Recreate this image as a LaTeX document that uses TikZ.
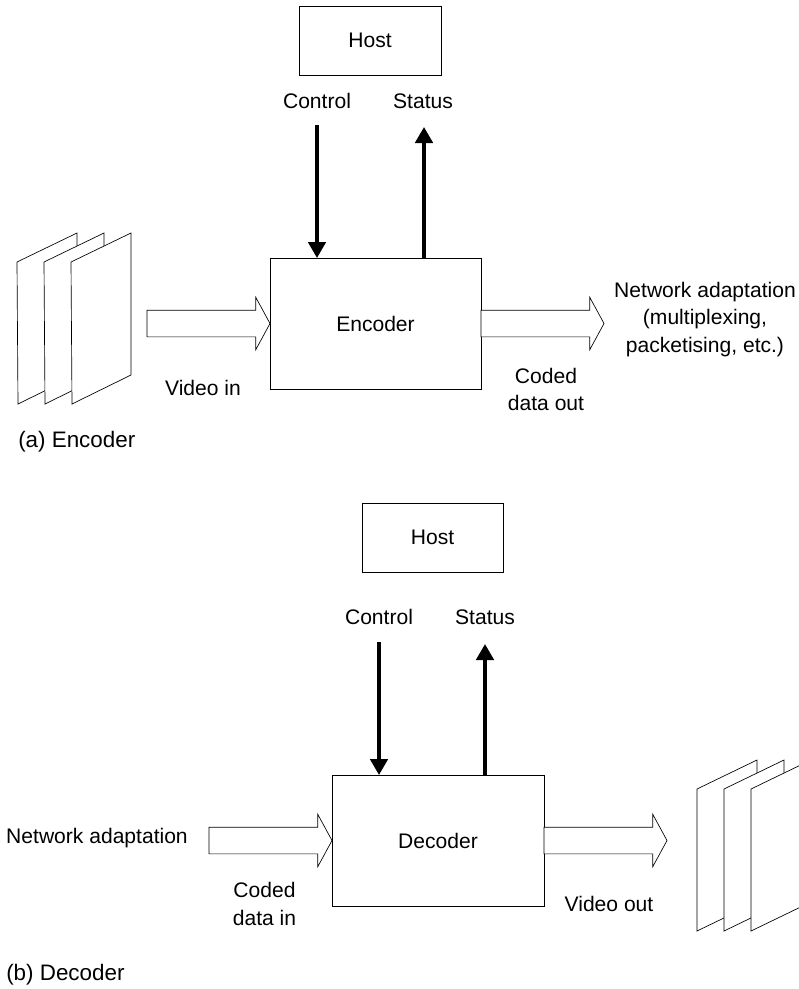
\documentclass[tikz,border=0pt]{standalone}
\usepackage{fontspec}
\setmainfont{Liberation Sans}
\usepackage{tikz}
\usetikzlibrary{shapes.arrows,arrows.meta}

\begin{document}
\begin{tikzpicture}[x=0.75pt, y=-0.75pt,
		box_style/.style={rectangle,draw=black,line width=0.5pt,fill=white,outer sep=0pt,font=\fontsize{15.8}{20.6}\selectfont},
		label_style/.style={align=center,font=\fontsize{15.8}{20.6}\selectfont,inner sep=0pt},
		caption_style/.style={anchor=west,font=\fontsize{16.8}{20.6}\selectfont,inner sep=0pt},
		data_style/.style={single arrow,draw=black,line width=0.5pt,fill=white,outer sep=0pt,inner xsep=0pt,inner ysep=9.75pt,
			single arrow head extend=9.75pt,single arrow tip angle=123,minimum height=92.25pt},
		ctrl_style/.style={draw=black,line width=2.8pt,-{Triangle[length=12pt,width=13pt]}},
		frame_style/.style={draw=black,line width=0.5pt,fill=white}]

		\clip (0,0) rectangle (799,989);

		% encoder
		\foreach \i in {0,27,54} {
			\draw[frame_style] (17+\i,262) -- (77+\i,233) -- (77+\i,375) -- (18+\i,404) -- cycle;
		}
		\node[box_style,minimum width=158.25pt,minimum height=98.25pt] (encoder) at (375.5,323.5) {Encoder};
		\node[box_style,minimum width=106.5pt,minimum height=51.75pt] (host_a) at (370,40.5) {Host};
		\node[data_style,anchor=tip] (video_in) at (encoder.west) {};
		\node[data_style,anchor=tail] (coded_out) at (encoder.east) {};

		\node[label_style] (control_a) at (317,101) {Control};
		\node[label_style] (status_a) at (423,101) {Status};
		\node[label_style] (video_in_text) at (203,388) {Video in};
		\node[label_style] (coded_out_text) at (546,389.5) {Coded\\data out};
		\node[label_style] (network_a) at (705,319.5) {Network adaptation\\(multiplexing,\\packetising, etc.)};
		\node[caption_style] (caption_a) at (18,442) {(a) Encoder};

		\coordinate (control_a_end) at (317,125);
		\coordinate (status_a_end) at (424,127);
		\draw[ctrl_style] (control_a_end) -- (control_a_end |- encoder.north);
		\draw[ctrl_style] (status_a_end |- encoder.north) -- (status_a_end);

		% decoder
		\node[box_style,minimum width=159pt,minimum height=98.25pt] (decoder) at (438,840.5) {Decoder};
		\node[box_style,minimum width=105.75pt,minimum height=51.75pt] (host_b) at (432.5,537.5) {Host};
		\node[data_style,anchor=tip] (coded_in) at (decoder.west) {};
		\node[data_style,anchor=tail] (video_out) at (decoder.east) {};
		\foreach \i in {0,27,54} {
			\draw[frame_style] (697+\i,789) -- (757+\i,760) -- (757+\i,902) -- (697+\i,931) -- cycle;
		}

		\node[label_style] (control_b) at (379,617) {Control};
		\node[label_style] (status_b) at (485,617) {Status};
		\node[label_style] (coded_in_text) at (264.5,904) {Coded\\data in};
		\node[label_style] (video_out_text) at (609,904) {Video out};
		\node[label_style] (network_b) at (97,838) {Network adaptation};
		\node[caption_style] (caption_b) at (6,975) {(b) Decoder};

		\coordinate (control_b_end) at (379,642);
		\coordinate (status_b_end) at (485,644);
		\draw[ctrl_style] (control_b_end) -- (control_b_end |- decoder.north);
		\draw[ctrl_style] (status_b_end |- decoder.north) -- (status_b_end);

\end{tikzpicture}
\end{document}
